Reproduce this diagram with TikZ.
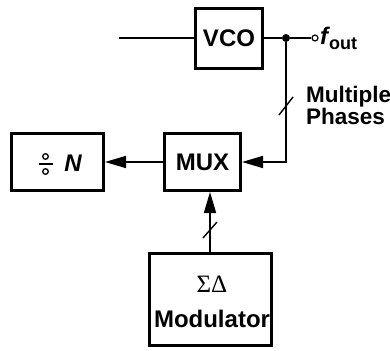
\documentclass[tikz,border=0pt]{standalone}
\usepackage{fontspec}
\setmainfont{Liberation Sans}
\newfontfamily\serifgreek{Liberation Serif}
\usetikzlibrary{arrows.meta}
\begin{document}
\begin{tikzpicture}[x=1pt,y=-1pt,
  blk/.style={draw,line width=3pt,inner sep=0pt,font=\fontsize{24}{24}\selectfont\bfseries},
  conn/.style={line width=1.7pt},
  arr/.style={conn,-{Triangle[length=21pt,width=12pt]}},
  lbl/.style={inner sep=0pt,font=\fontsize{22.5}{19}\selectfont\bfseries}]
\useasboundingbox (0,0) rectangle (390,350);
% blocks
\node[blk,minimum width=67pt,minimum height=60pt] (vco) at (229,38.5) {VCO};
\node[blk,minimum width=76pt,minimum height=57pt] (mux) at (202.5,162) {MUX};
\node[blk,minimum width=92pt,minimum height=57pt] (div) at (57.5,162) {};
\node[blk,minimum width=122pt,minimum height=92pt,align=center] (mod) at (210.5,299.5) {};
\node[inner sep=0pt,font=\fontsize{25}{25}\selectfont\serifgreek] (sd) at (212,284) {ΣΔ};
\node[inner sep=0pt,font=\fontsize{24}{24}\selectfont\bfseries] (modt) at (212,318.5) {Modulator};
% divider symbol and N
\draw[line width=1.3pt] (45.5,156.5) circle (2.8pt) (45.5,171.5) circle (2.8pt);
\draw[line width=1.4pt] (38.5,164) -- (52.5,164);
\node[inner sep=0pt,font=\fontsize{24}{24}\selectfont\bfseries\itshape] (nt) at (73,163) {N};
% VCO input and output
\coordinate (in) at (119,38);
\draw[conn] (in) -- (vco.west |- in);
\node[circle,fill,inner sep=0pt,minimum size=8pt] (dot) at (286,38) {};
\node[circle,draw,line width=1.2pt,inner sep=0pt,minimum size=6pt] (out) at (315,38) {};
\draw[conn] (vco.east |- dot) -- (dot) -- (out);
\node[inner sep=0pt,anchor=base west] (fo) at (320,45) {\fontsize{24}{24}\selectfont\bfseries\itshape f\kern1pt\raisebox{-5pt}{\fontsize{18}{18}\selectfont\upshape out}};
% feedback to MUX
\coordinate (corner) at (286,162);
\draw[arr] (dot) -- (corner) -- (mux.east);
\coordinate (s1) at (286,106);
\draw[conn,line width=1.4pt] ([shift={(-7,9)}]s1) -- ([shift={(7,-9)}]s1);
\node[lbl,anchor=north west,align=left] (mp) at (306,86) {Multiple\\Phases};
% MUX to divider
\draw[arr] (mux.west) -- (div.east);
% modulator to MUX
\draw[arr] (mod.north -| mux.south) ++(7.5,0) coordinate (mtop) -- (mtop |- mux.south);
\coordinate (s2) at (210,230);
\draw[conn,line width=1.4pt] ([shift={(-7,8)}]s2) -- ([shift={(7,-8)}]s2);
\end{tikzpicture}
\end{document}
